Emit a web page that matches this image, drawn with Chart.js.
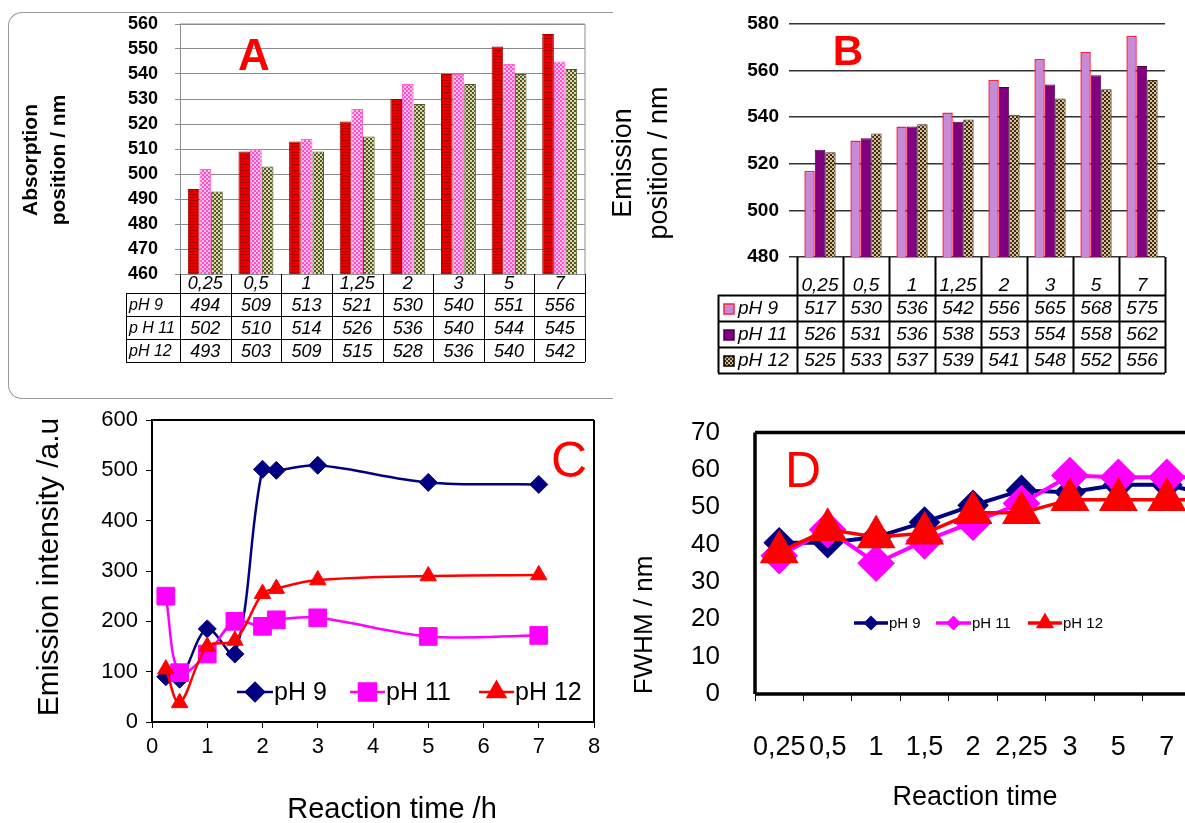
<!DOCTYPE html>
<html>
<head>
<meta charset="utf-8">
<script src="https://cdn.jsdelivr.net/npm/chart.js@4.4.0/dist/chart.umd.min.js"></script>
<style>
html, body { margin: 0; padding: 0; background: #fff; overflow: hidden; width: 1185px; height: 823px; }
canvas { position: absolute; }
#boxA { position: absolute; left: 8px; top: 12px; width: 604px; height: 385px; border: 1px solid #9a9a9a; border-right: none; border-radius: 14px 0 0 14px; }
</style>
</head>
<body>
<div id="boxA"></div>
<canvas id="cA" width="612" height="400" style="left:0;top:0"></canvas>
<canvas id="cB" width="585" height="380" style="left:600px;top:0"></canvas>
<canvas id="cC" width="612" height="423" style="left:0;top:400px"></canvas>
<canvas id="cD" width="650" height="413" style="left:612px;top:410px"></canvas>
<script>
'use strict';
// ---- data ----
var barCats = ['0,25', '0,5', '1', '1,25', '2', '3', '5', '7'];
var rowsA = ['pH 9', 'p H 11', 'pH 12'];
var rowsB = ['pH 9', 'pH 11', 'pH 12'];
var absPH9 = [494, 509, 513, 521, 530, 540, 551, 556];
var absPH11 = [502, 510, 514, 526, 536, 540, 544, 545];
var absPH12 = [493, 503, 509, 515, 528, 536, 540, 542];
var emPH9 = [517, 530, 536, 542, 556, 565, 568, 575];
var emPH11 = [526, 531, 536, 538, 553, 554, 558, 562];
var emPH12 = [525, 533, 537, 539, 541, 548, 552, 556];

var timeH = [0.25, 0.5, 1, 1.5, 2, 2.25, 3, 5, 7];
var intPH9 = [90, 85, 185, 135, 502, 500, 510, 476, 472];
var intPH11 = [250, 98, 135, 200, 190, 203, 207, 170, 172];
var intPH12 = [105, 38, 150, 162, 255, 265, 282, 290, 292];

var fwhmCats = ['0,25', '0,5', '1', '1,5', '2', '2,25', '3', '5', '7', ''];
var fwhmPH9 = [40.5, 40.5, 42, 46, 50.5, 54.5, 54, 56, 56, 53];
var fwhmPH11 = [37, 44, 35, 41, 46, 51, 58.5, 58, 58, 58];
var fwhmPH12 = [38, 44, 42, 43, 48.5, 48.5, 52, 52, 52, 52];

var FONT = "'Liberation Sans', Arial, sans-serif";
Chart.defaults.font.family = FONT;
Chart.defaults.color = '#000';
Chart.defaults.animation = false;

var NAVY = '#000080', MAGENTA = '#ff00ff', RED = '#ff0000';

function pattern(w, h, paint) {
  var c = document.createElement('canvas');
  c.width = w; c.height = h;
  var g = c.getContext('2d');
  paint(g);
  return g.createPattern(c, 'repeat');
}
function checker(a, b) {
  return pattern(4, 4, function(g) {
    g.fillStyle = a; g.fillRect(0, 0, 4, 4);
    g.fillStyle = b; g.fillRect(0, 0, 2, 2); g.fillRect(2, 2, 2, 2);
  });
}
var redStripe = pattern(4, 3, function(g) {
  g.fillStyle = '#e60000'; g.fillRect(0, 0, 4, 3);
  g.fillStyle = '#b00000'; g.fillRect(0, 2, 4, 1);
});
var pinkCheck = checker('#ffc2ec', '#ff4dc4');
var oliveCheck = checker('#d9d9a6', '#55552b');
var tanCheck = checker('#d8bf8c', '#3b2a1a');

// fixed y axis width; label overflow must not push the plot down
function fixWidth(w) {
  return function(s) { s.width = w; s.paddingTop = 0; s.paddingBottom = 0; };
}

// free text drawn on a chart
var textPlugin = {
  id: 'texts',
  afterDraw: function(chart, args, opts) {
    var ctx = chart.ctx;
    (opts.items || []).forEach(function(t) {
      ctx.save();
      ctx.translate(t.x, t.y);
      if (t.rot) ctx.rotate(t.rot);
      ctx.font = t.font;
      ctx.fillStyle = t.color || '#000';
      ctx.textAlign = 'center';
      ctx.textBaseline = 'middle';
      ctx.fillText(t.text, 0, 0);
      ctx.restore();
    });
  }
};

// data table under the bar charts, columns follow the x scale
function tablePlugin(t) {
  return {
    id: 'table',
    afterDraw: function(chart) {
      var ctx = chart.ctx, xs = chart.scales.x, a = chart.chartArea;
      var n = chart.data.labels.length;
      var w = (a.right - a.left) / n;
      var bottom = t.headBottom + t.rowH * t.rows.length;
      ctx.save();
      ctx.strokeStyle = '#000';
      ctx.lineWidth = t.lineWidth;
      ctx.beginPath();
      for (var i = 0; i <= n; i++) {
        var ex = Math.round(a.left + i * w) + 0.5;
        ctx.moveTo(ex, a.bottom); ctx.lineTo(ex, bottom);
      }
      ctx.moveTo(t.labelLeft + 0.5, t.headBottom); ctx.lineTo(t.labelLeft + 0.5, bottom);
      for (var r = 0; r <= t.rows.length; r++) {
        var ry = Math.round(t.headBottom + r * t.rowH) + 0.5;
        ctx.moveTo(t.labelLeft, ry); ctx.lineTo(a.right, ry);
      }
      ctx.stroke();
      ctx.font = t.font;
      ctx.fillStyle = '#000';
      ctx.textBaseline = 'middle';
      ctx.textAlign = 'center';
      chart.data.labels.forEach(function(lab, i) {
        ctx.fillText(lab, xs.getPixelForValue(i), t.headTextY);
      });
      t.rows.forEach(function(row, r) {
        var cy = t.headBottom + r * t.rowH + t.rowH / 2 + 1;
        var lx = t.labelLeft + 3;
        if (row.swatch) {
          ctx.fillStyle = row.swatch;
          ctx.fillRect(lx + 3, cy - 5, 10, 10);
          ctx.strokeStyle = row.swatchBorder;
          ctx.lineWidth = 1.5;
          ctx.strokeRect(lx + 3, cy - 5, 10, 10);
          lx += 17;
        }
        ctx.fillStyle = '#000';
        ctx.textAlign = 'left';
        ctx.font = t.labelFont || t.font;
        ctx.fillText(row.label, lx, cy);
        ctx.font = t.font;
        ctx.textAlign = 'center';
        row.values.forEach(function(v, i) {
          ctx.fillText(String(v), xs.getPixelForValue(i), cy);
        });
      });
      ctx.restore();
    }
  };
}

// box around the plot area
function framePlugin(color, width, sides) {
  return {
    id: 'frame',
    afterDatasetsDraw: function(chart) {
      var ctx = chart.ctx, a = chart.chartArea;
      ctx.save();
      ctx.strokeStyle = color;
      ctx.lineWidth = width;
      ctx.beginPath();
      if (sides.indexOf('t') >= 0) { ctx.moveTo(a.left, a.top); ctx.lineTo(a.right, a.top); }
      if (sides.indexOf('r') >= 0) { ctx.moveTo(a.right, a.top); ctx.lineTo(a.right, a.bottom); }
      if (sides.indexOf('b') >= 0) { ctx.moveTo(a.left, a.bottom); ctx.lineTo(a.right, a.bottom); }
      if (sides.indexOf('l') >= 0) { ctx.moveTo(a.left, a.top); ctx.lineTo(a.left, a.bottom); }
      ctx.stroke();
      ctx.restore();
    }
  };
}

// legend drawn inside the plot
function legendPlugin(cfg) {
  return {
    id: 'inlegend',
    afterDraw: function(chart) {
      var ctx = chart.ctx;
      ctx.save();
      cfg.items.forEach(function(it, i) {
        var ds = chart.data.datasets[i];
        ctx.strokeStyle = ds.borderColor;
        ctx.lineWidth = cfg.lineWidth;
        ctx.beginPath();
        ctx.moveTo(it.x0, cfg.y); ctx.lineTo(it.x1, cfg.y);
        ctx.stroke();
        ctx.fillStyle = ds.borderColor;
        ctx.strokeStyle = ds.borderColor;
        Chart.helpers.drawPoint(ctx, { pointStyle: ds.pointStyle, radius: it.r, rotation: 0, borderWidth: 1 }, (it.x0 + it.x1) / 2, cfg.y);
        ctx.fillStyle = '#000';
        ctx.font = cfg.font;
        ctx.textAlign = 'left';
        ctx.textBaseline = 'middle';
        ctx.fillText(ds.label, it.x1 + 1, cfg.y + 1);
      });
      ctx.restore();
    }
  };
}

// ---- A: absorption position ----
new Chart(document.getElementById('cA'), {
  type: 'bar',
  data: {
    labels: barCats,
    datasets: [
      { label: rowsA[0], data: absPH9, backgroundColor: redStripe, borderColor: '#a00000', borderWidth: 1 },
      { label: rowsA[1], data: absPH11, backgroundColor: pinkCheck, borderColor: '#ff66cc', borderWidth: 1 },
      { label: rowsA[2], data: absPH12, backgroundColor: oliveCheck, borderColor: '#55552b', borderWidth: 1 }
    ]
  },
  options: {
    responsive: false,
    layout: { padding: { left: 0, top: 24, right: 27, bottom: 126 } },
    datasets: { bar: { categoryPercentage: 0.69, barPercentage: 1 } },
    plugins: {
      legend: { display: false }, tooltip: { enabled: false },
      texts: { items: [
        { text: 'Absorption', x: 31, y: 160, rot: -Math.PI / 2, font: 'bold 21px ' + FONT },
        { text: 'position / nm', x: 59, y: 160, rot: -Math.PI / 2, font: 'bold 21px ' + FONT },
        { text: 'A', x: 254, y: 58, font: 'bold 44px ' + FONT, color: RED }
      ] }
    },
    scales: {
      x: { grid: { display: false }, border: { display: false }, ticks: { display: false },
           afterFit: function(s) { s.height = 0; } },
      y: { min: 460, max: 560,
           ticks: { stepSize: 10, padding: 17, font: { size: 18, weight: 'bold' } },
           grid: { color: '#8c8c8c', tickLength: 5 },
           border: { color: '#8c8c8c' },
           afterFit: fixWidth(180) }
    }
  },
  plugins: [textPlugin, framePlugin('#8c8c8c', 1, 'tr'), tablePlugin({
    headBottom: 293, headTextY: 284, rowH: 23, labelLeft: 126, lineWidth: 1,
    font: 'italic 18px ' + FONT, labelFont: 'italic 16px ' + FONT,
    rows: [
      { label: rowsA[0], values: absPH9 },
      { label: rowsA[1], values: absPH11 },
      { label: rowsA[2], values: absPH12 }
    ]
  })]
});

// ---- B: emission position ----
var lavender = '#c68ad6', purple = '#800080';
new Chart(document.getElementById('cB'), {
  type: 'bar',
  data: {
    labels: barCats,
    datasets: [
      { label: rowsB[0], data: emPH9, backgroundColor: lavender, borderColor: '#ff2040', borderWidth: 1.5 },
      { label: rowsB[1], data: emPH11, backgroundColor: purple, borderColor: '#4a004a', borderWidth: 1 },
      { label: rowsB[2], data: emPH12, backgroundColor: tanCheck, borderColor: '#3b2a1a', borderWidth: 1 }
    ]
  },
  options: {
    responsive: false,
    layout: { padding: { left: 0, top: 24, right: 20, bottom: 123 } },
    datasets: { bar: { categoryPercentage: 0.68, barPercentage: 1 } },
    plugins: {
      legend: { display: false }, tooltip: { enabled: false },
      texts: { items: [
        { text: 'Emission', x: 24, y: 163, rot: -Math.PI / 2, font: '27px ' + FONT },
        { text: 'position / nm', x: 60, y: 163, rot: -Math.PI / 2, font: '27px ' + FONT },
        { text: 'B', x: 248, y: 53, font: 'bold 42px ' + FONT, color: RED }
      ] }
    },
    scales: {
      x: { grid: { display: false }, border: { display: false }, ticks: { display: false },
           afterFit: function(s) { s.height = 0; } },
      y: { min: 480, max: 580,
           ticks: { stepSize: 20, padding: 10, font: { size: 19, weight: 'bold' } },
           grid: { color: '#333', lineWidth: 1.5, tickLength: 8 },
           border: { display: false },
           afterFit: fixWidth(197) }
    }
  },
  plugins: [textPlugin, tablePlugin({
    headBottom: 295, headTextY: 286, rowH: 26, labelLeft: 118, lineWidth: 2,
    font: 'italic 19px ' + FONT,
    rows: [
      { label: rowsB[0], values: emPH9, swatch: lavender, swatchBorder: '#ff2040' },
      { label: rowsB[1], values: emPH11, swatch: purple, swatchBorder: '#4a004a' },
      { label: rowsB[2], values: emPH12, swatch: tanCheck, swatchBorder: '#000' }
    ]
  })]
});

// ---- C: emission intensity vs time ----
function xy(xs, ys) { return xs.map(function(x, i) { return { x: x, y: ys[i] }; }); }
new Chart(document.getElementById('cC'), {
  type: 'line',
  data: {
    datasets: [
      { label: 'pH 9', data: xy(timeH, intPH9), borderColor: NAVY, backgroundColor: NAVY, pointStyle: 'rectRot', pointRadius: 9, order: 2 },
      { label: 'pH 11', data: xy(timeH, intPH11), borderColor: MAGENTA, backgroundColor: MAGENTA, pointStyle: 'rect', pointRadius: 12.5, order: 1 },
      { label: 'pH 12', data: xy(timeH, intPH12), borderColor: RED, backgroundColor: RED, pointStyle: 'triangle', pointRadius: 9.5, order: 0 }
    ]
  },
  options: {
    responsive: false,
    layout: { padding: { left: 0, top: 20, right: 18, bottom: 51 } },
    elements: { line: { borderWidth: 2.5, tension: 0.35 }, point: { borderWidth: 1 } },
    plugins: {
      legend: { display: false }, tooltip: { enabled: false },
      texts: { items: [
        { text: 'Emission intensity /a.u', x: 50, y: 167, rot: -Math.PI / 2, font: '30px ' + FONT },
        { text: 'Reaction time /h', x: 392, y: 410, font: '29px ' + FONT },
        { text: 'C', x: 569, y: 63, font: '50px ' + FONT, color: RED }
      ] }
    },
    scales: {
      x: { type: 'linear', min: 0, max: 8,
           ticks: { stepSize: 1, padding: 6, font: { size: 22 } },
           grid: { drawOnChartArea: false, color: '#000', tickLength: 6 },
           border: { color: '#000', width: 2 },
           afterFit: function(s) { s.height = 50; } },
      y: { min: 0, max: 600,
           ticks: { stepSize: 100, padding: 8, font: { size: 22 } },
           grid: { drawOnChartArea: false, color: '#000', tickLength: 6 },
           border: { color: '#000', width: 2 },
           afterFit: fixWidth(152) }
    }
  },
  plugins: [textPlugin, framePlugin('#000', 2, 'tr'), legendPlugin({
    y: 292, lineWidth: 2.5, font: '25px ' + FONT,
    items: [ { x0: 237, x1: 273, r: 9 }, { x0: 350, x1: 385, r: 12 }, { x0: 479, x1: 514, r: 10 } ]
  })]
});

// ---- D: FWHM vs time ----
new Chart(document.getElementById('cD'), {
  type: 'line',
  data: {
    labels: fwhmCats,
    datasets: [
      { label: 'pH 9', data: fwhmPH9, borderColor: NAVY, backgroundColor: NAVY, pointStyle: 'rectRot', pointRadius: 13, borderWidth: 4, order: 2 },
      { label: 'pH 11', data: fwhmPH11, borderColor: MAGENTA, backgroundColor: MAGENTA, pointStyle: 'rectRot', pointRadius: 16, borderWidth: 4, order: 1 },
      { label: 'pH 12', data: fwhmPH12, borderColor: RED, backgroundColor: RED, pointStyle: 'triangle', pointRadius: 19, borderWidth: 3.5, order: 0 }
    ]
  },
  options: {
    responsive: false,
    layout: { padding: { left: 0, top: 22, right: 17, bottom: 49 } },
    elements: { line: { tension: 0 }, point: { borderWidth: 1 } },
    plugins: {
      legend: { display: false }, tooltip: { enabled: false },
      texts: { items: [
        { text: 'FWHM / nm', x: 33, y: 215, rot: -Math.PI / 2, font: '26px ' + FONT },
        { text: 'Reaction time', x: 363, y: 388, font: '27px ' + FONT },
        { text: 'D', x: 191, y: 63, font: '50px ' + FONT, color: RED }
      ] }
    },
    scales: {
      x: { offset: true,
           ticks: { autoSkip: false, maxRotation: 0, minRotation: 0, padding: 30, font: { size: 27 } },
           grid: { offset: true, drawOnChartArea: false, color: '#000', tickLength: 7 },
           border: { display: false },
           afterFit: function(s) { s.height = 80; } },
      y: { min: 0, max: 70,
           ticks: { stepSize: 10, padding: 27, font: { size: 26 } },
           grid: { display: false },
           border: { display: false },
           afterFit: fixWidth(143) }
    }
  },
  plugins: [textPlugin, framePlugin('#000', 3.5, 'tlbr'), legendPlugin({
    y: 213, lineWidth: 3.5, font: '15px ' + FONT,
    items: [ { x0: 242, x1: 276, r: 5 }, { x0: 324, x1: 359, r: 5 }, { x0: 416, x1: 450, r: 7 } ]
  })]
});
</script>
</body>
</html>
